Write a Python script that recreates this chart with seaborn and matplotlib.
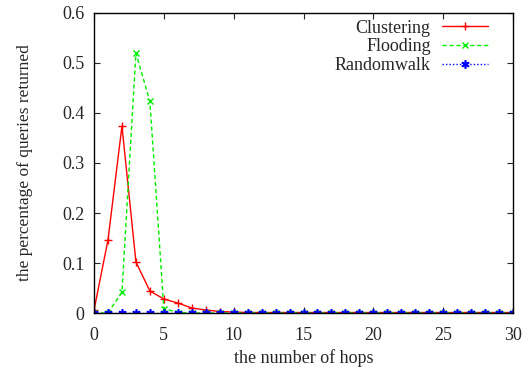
import numpy as np
import pandas as pd
import matplotlib
matplotlib.use('Agg')
import matplotlib.pyplot as plt
import seaborn as sns

sns.set_style('ticks')
plt.rcParams['font.family'] = ['Liberation Serif', 'DejaVu Serif']
plt.rcParams['font.size'] = 13

hops = list(range(31))
clustering = [0.006, 0.146, 0.374, 0.102, 0.044, 0.028, 0.020, 0.010, 0.006, 0.003,
              0.002] + [0.001] * 20
flooding = [0.0, 0.0, 0.042, 0.52, 0.423, 0.009, 0.001] + [0.0] * 24
randomwalk = [0.0] * 31

fig = plt.figure(figsize=(5.3, 3.71), dpi=100)
ax = fig.add_axes([0.1774, 0.1563, 0.7906, 0.8087])

sns.lineplot(x=hops, y=clustering, ax=ax, color='red', linewidth=1, marker='+',
             markersize=6, markeredgewidth=1, markeredgecolor='red', label='Clustering')
sns.lineplot(x=hops, y=flooding, ax=ax, color='#00ee00', linewidth=1, linestyle=(0, (3, 2)),
             marker='x', markersize=5, markeredgewidth=1, markeredgecolor='#00ee00',
             label='Flooding')
sns.lineplot(x=hops, y=randomwalk, ax=ax, color='blue', linewidth=1, linestyle=(0, (1, 1.5)),
             marker=(6, 2, 0), markersize=6, markeredgewidth=1.2, markeredgecolor='blue',
             label='Randomwalk')

ax.set_xlim(0, 30)
ax.set_ylim(0, 0.6)
ax.set_xticks(range(0, 31, 5))
ax.set_yticks(np.arange(0, 0.61, 0.1))
ax.set_yticklabels(['0', '0.1', '0.2', '0.3', '0.4', '0.5', '0.6'])
ax.tick_params(direction='in', top=True, right=True, length=4, width=0.8, labelsize=13)
ax.tick_params(axis='x', pad=10)
ax.tick_params(axis='y', pad=7)
for s in ax.spines.values():
    s.set_visible(True)
    s.set_linewidth(1)
    s.set_color('black')

ax.set_xlabel('the number of hops', fontsize=13, labelpad=4)
ax.set_ylabel('the percentage of queries returned', fontsize=12.5, labelpad=21)

leg = ax.legend(loc='upper right', bbox_to_anchor=(0.95, 0.99), frameon=False,
                markerfirst=False, handlelength=2.6, borderaxespad=0, borderpad=0.2,
                labelspacing=0.1, handletextpad=0.6, fontsize=13)

fig.savefig('out.png', dpi=100)
